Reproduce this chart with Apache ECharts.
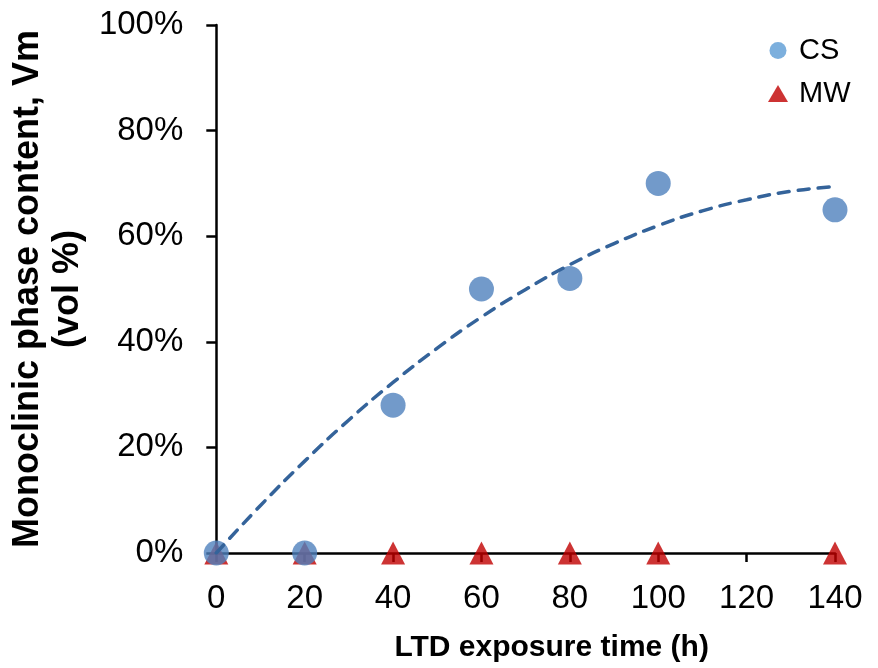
<!DOCTYPE html>
<html>
<head>
<meta charset="utf-8">
<script src="https://cdn.jsdelivr.net/npm/echarts@6/dist/echarts.min.js"></script>
<style>html,body{margin:0;padding:0;background:#fff}#c{width:878px;height:668px}</style>
</head>
<body>
<div id="c"></div>
<script>
// Data
const csX = [0, 20, 40, 60, 80, 100, 140];
const csY = [0, 0, 28, 50, 52, 70, 65];
const mwX = [0, 20, 40, 60, 80, 100, 140];
const mwY = [0, 0, 0, 0, 0, 0, 0];
// Trendline points
const trendX = [0, 10, 20, 30, 40, 50, 60, 70, 80, 90, 100, 110, 120, 130, 140];
const trendY = [0, 9.0, 17.4, 25.2, 32.3, 38.8, 44.7, 49.9, 54.6, 58.6, 62.0, 64.8, 66.9, 68.5, 69.4];
const yTicks = [0, 20, 40, 60, 80, 100];
const xTicks = [0, 20, 40, 60, 80, 100, 120, 140];

const pair = (xs, ys) => xs.map((x, i) => [x, ys[i]]);
const font = 'Liberation Sans, Arial, sans-serif';

const chart = echarts.init(document.getElementById('c'), null, {renderer: 'canvas'});
chart.setOption({
  animation: false,
  backgroundColor: '#ffffff',
  grid: {left: 214, right: 43, top: 25, bottom: 112, containLabel: false},
  legend: {
    orient: 'vertical', left: 763, top: 31, itemGap: 14,
    itemWidth: 20, itemHeight: 17,
    textStyle: {fontFamily: font, fontSize: 29, color: '#000', padding: [0, 0, 0, 6]},
    data: [
      {name: 'CS', icon: 'circle', itemStyle: {color: '#5B9BD5'}},
      {name: 'MW', icon: 'triangle', itemStyle: {color: '#C00000'}}
    ]
  },
  xAxis: {
    type: 'value', min: xTicks[0], max: xTicks[xTicks.length - 1], interval: 20,
    name: 'LTD exposure time (h)', nameLocation: 'middle', nameGap: 80,
    nameTextStyle: {fontFamily: font, fontSize: 30, fontWeight: 'bold', color: '#000', padding: [0, 0, 0, 52]},
    axisLine: {show: true, onZero: false, lineStyle: {color: '#000', width: 2.5}},
    axisTick: {show: true, inside: false, length: 9, lineStyle: {color: '#000', width: 2.5}},
    axisLabel: {fontFamily: font, fontSize: 33, color: '#000', margin: 29},
    splitLine: {show: false}
  },
  yAxis: {
    type: 'value', min: yTicks[0], max: yTicks[yTicks.length - 1], interval: 20,
    name: 'Monoclinic phase content, Vm\n(vol %)', nameLocation: 'middle', nameGap: 126,
    nameTextStyle: {fontFamily: font, fontSize: 36, fontWeight: 'bold', color: '#000', lineHeight: 40, align: 'center'},
    axisLine: {show: true, lineStyle: {color: '#000', width: 2.5}},
    axisTick: {show: true, inside: false, length: 10, lineStyle: {color: '#000', width: 2.5}},
    axisLabel: {fontFamily: font, fontSize: 33, color: '#000', margin: 33, formatter: '{value}%'},
    splitLine: {show: false}
  },
  series: [
    {
      name: 'MW', type: 'scatter', symbol: 'triangle', symbolSize: [24, 23],
      itemStyle: {color: '#C00000'}, data: pair(mwX, mwY), z: 2
    },
    {
      name: 'Trend', type: 'line', smooth: true, symbol: 'none', data: pair(trendX, trendY),
      lineStyle: {color: '#34639A', width: 3.5, type: [11, 9], cap: 'round'}, z: 4
    },
    {
      name: 'CS', type: 'scatter', symbol: 'circle', symbolSize: 25,
      itemStyle: {color: '#4F81BD'}, data: pair(csX, csY), z: 3
    }
  ]
});
</script>
</body>
</html>
